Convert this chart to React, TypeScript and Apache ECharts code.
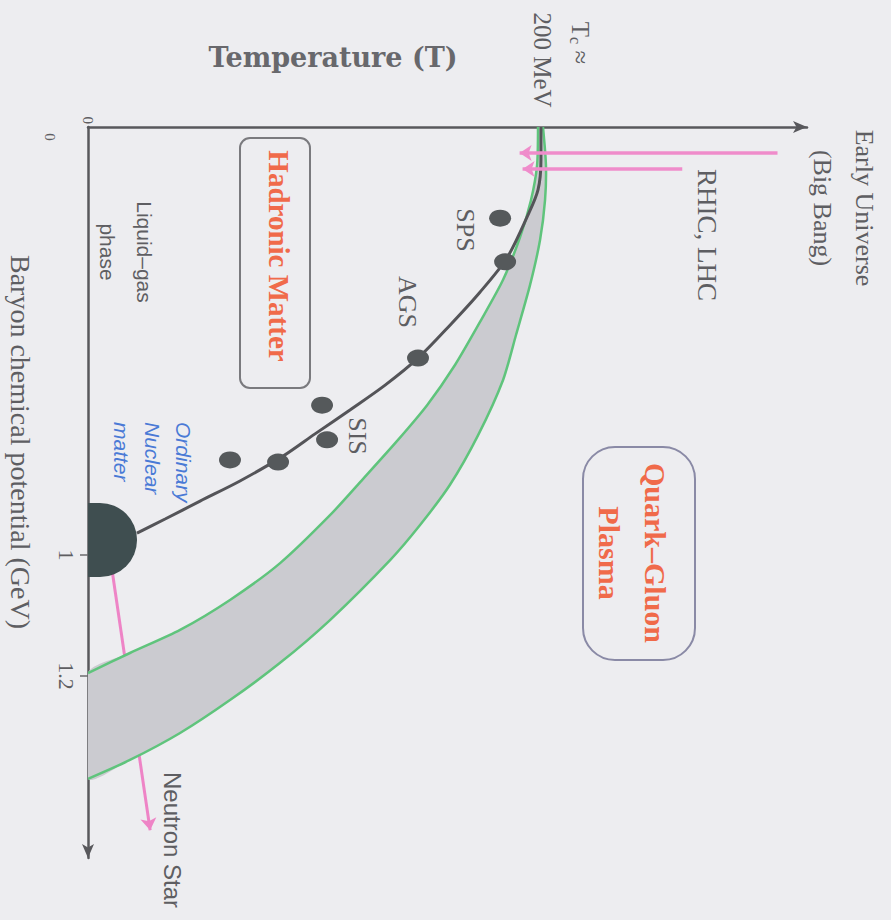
import React, { useEffect, useRef } from "react";
import * as echarts from "echarts";

// Horizontal axis: temperature T (MeV). Vertical axis (downwards): baryon chemical potential muB (GeV).
const tAxisMax = 317;
const muAxisMax = 1.708;

// Phase-transition line (dark grey)
const transitionT = [199.7, 199.7, 198.4, 193.6, 184.7, 172.8, 159.6, 145.5, 131.0, 115.5, 100.1, 86.0, 67.0, 49.4, 34.0, 21.6];
const transitionMu = [0, 0.077, 0.147, 0.21, 0.306, 0.386, 0.463, 0.54, 0.603, 0.661, 0.717, 0.769, 0.827, 0.874, 0.916, 0.949];

// Shaded band (green borders)
const bandInnerT = [198.4, 198.0, 195.3, 190.5, 183.0, 173.3, 161.8, 149.5, 136.2, 121.3, 106.7, 84.7, 62.6, 40.6, 18.5, 0];
const bandInnerMu = [0, 0.089, 0.171, 0.257, 0.357, 0.451, 0.556, 0.65, 0.734, 0.822, 0.907, 1.019, 1.105, 1.175, 1.229, 1.276];
const bandOuterT = [200.6, 201.9, 201.5, 199.3, 194.9, 188.7, 183.0, 172.0, 159.6, 146.4, 133.2, 106.7, 84.7, 62.6, 40.6, 18.5, 0];
const bandOuterMu = [0, 0.089, 0.171, 0.264, 0.369, 0.486, 0.591, 0.72, 0.836, 0.93, 1.012, 1.152, 1.252, 1.339, 1.416, 1.479, 1.523];

// Freeze-out points (SPS, AGS, SIS ...)
const experimentT = [181.7, 183.9, 145.5, 103.2, 105.4, 83.8, 62.6];
const experimentMu = [0.213, 0.315, 0.54, 0.65, 0.731, 0.783, 0.778];

// Ordinary nuclear matter
const nuclearT = [5.3];
const nuclearMu = [0.965];

// RHIC / LHC arrows
const rhicFromT = [304, 262];
const rhicToT = [190.3, 191.6];
const rhicMu = [0.061, 0.098];

// Neutron-star arrow
const neutronFrom = [10.6, 1.035];
const neutronTo = [27.4, 1.643];

// Tick labels
const muTickValues = [0, 1, 1.283];
const muTickLabels = ["0", "1", "1.2"];
const tTickValues = [0];
const tTickLabels = ["0"];

const GREY = "#5e5e62";
const SERIF = "'Liberation Serif', 'Times New Roman', serif";
const SANS = "'Liberation Sans', Arial, sans-serif";
const RED = "#f06a4a";
const ROT = -Math.PI / 2;

// half-disc (flat on the left, against the vertical axis)
const BLOB_PATH = "path://M0,0 L12,0 A37,37 0 1 1 12,74 L0,74 Z";

function pick(values: number[], labels: string[], v: number) {
  let best = -1;
  let d = Infinity;
  values.forEach((x, i) => {
    if (Math.abs(x - v) < d) {
      d = Math.abs(x - v);
      best = i;
    }
  });
  return d < 1e-6 ? labels[best] : "";
}

function rotText(x: number, y: number, text: string, styleExtra: any = {}) {
  return {
    type: "text",
    x,
    y,
    rotation: ROT,
    z: 100,
    style: {
      text,
      fill: GREY,
      fontFamily: SERIF,
      fontSize: 26,
      align: "center",
      verticalAlign: "middle",
      ...styleExtra,
    },
  };
}

export default function App() {
  const ref = useRef<HTMLDivElement>(null);

  useEffect(() => {
    const chart = echarts.init(ref.current!, null, { renderer: "svg" });

    const option: any = {
      animation: false,
      backgroundColor: "#ededf0",
      grid: { left: 88, top: 127, right: 84, bottom: 62, containLabel: false },
      xAxis: {
        type: "value",
        position: "top",
        min: 0,
        max: tAxisMax,
        splitLine: { show: false },
        axisTick: { show: false },
        axisLine: {
          show: true,
          onZero: false,
          symbol: ["none", "arrow"],
          symbolSize: [9, 14],
          lineStyle: { color: "#58585c", width: 2.5 },
        },
        axisLabel: {
          customValues: tTickValues,
          formatter: (v: number) => pick(tTickValues, tTickLabels, v),
          rotate: -90,
          margin: 3,
          fontSize: 15,
          fontFamily: SERIF,
          color: GREY,
        },
      },
      yAxis: {
        type: "value",
        inverse: true,
        min: 0,
        max: muAxisMax,
        splitLine: { show: false },
        axisLine: {
          show: true,
          onZero: false,
          symbol: ["arrow", "none"],
          symbolSize: [9, 14],
          lineStyle: { color: "#58585c", width: 2.5 },
        },
        axisTick: {
          show: true,
          customValues: [1, 1.283],
          length: 8,
          lineStyle: { color: "#6a6a6e", width: 1.5 },
        },
        axisLabel: {
          customValues: muTickValues,
          formatter: (v: number) => {
            const s = pick(muTickValues, muTickLabels, v);
            return v === 0 ? `{s|${s}}` : `{b|${s}}`;
          },
          rotate: -90,
          margin: 11,
          color: GREY,
          rich: {
            s: { fontSize: 15, fontFamily: SERIF, color: GREY, padding: [20, 0, 0, 20] },
            b: { fontSize: 22, fontFamily: SERIF, color: GREY },
          },
        },
      },
      series: [
        {
          type: "lines",
          coordinateSystem: "cartesian2d",
          z: 1,
          symbol: ["none", "arrow"],
          symbolSize: 12,
          lineStyle: { color: "#ee84c6", width: 3, opacity: 1 },
          data: [{ coords: [neutronFrom, neutronTo] }],
        },
        {
          type: "custom",
          coordinateSystem: "cartesian2d",
          clip: true,
          z: 2,
          data: [0],
          renderItem: (_p: any, api: any) => {
            const inner = bandInnerT.map((t, i) => api.coord([t, bandInnerMu[i]]));
            const outer = bandOuterT.map((t, i) => api.coord([t, bandOuterMu[i]]));
            return {
              type: "group",
              children: [
                {
                  type: "polygon",
                  shape: { points: inner.concat(outer.slice().reverse()), smooth: 0.25 },
                  style: { fill: "#cbcbd0" },
                },
                {
                  type: "polyline",
                  shape: { points: inner, smooth: 0.25 },
                  style: { stroke: "#5fc47c", lineWidth: 2.5, fill: "none" },
                },
                {
                  type: "polyline",
                  shape: { points: outer, smooth: 0.25 },
                  style: { stroke: "#5fc47c", lineWidth: 2.5, fill: "none" },
                },
              ],
            };
          },
        },
        {
          type: "line",
          z: 4,
          smooth: 0.3,
          symbol: "none",
          lineStyle: { color: "#545458", width: 3 },
          data: transitionT.map((t, i) => [t, transitionMu[i]]),
        },
        {
          type: "scatter",
          z: 5,
          symbol: "circle",
          symbolSize: [22, 17],
          itemStyle: { color: "#55595b", opacity: 1 },
          data: experimentT.map((t, i) => [t, experimentMu[i]]),
        },
        {
          type: "scatter",
          z: 5,
          clip: false,
          symbol: BLOB_PATH,
          symbolKeepAspect: false,
          symbolSize: [49, 74],
          symbolOffset: [12.5, 0],
          itemStyle: { color: "#3f4e50", opacity: 1 },
          data: nuclearT.map((t, i) => [t, nuclearMu[i]]),
        },
        {
          type: "lines",
          coordinateSystem: "cartesian2d",
          z: 6,
          symbol: ["none", "arrow"],
          symbolSize: 12,
          lineStyle: { color: "#ef8ccb", width: 3.5, opacity: 1 },
          data: rhicFromT.map((t, i) => ({ coords: [[t, rhicMu[i]], [rhicToT[i], rhicMu[i]]] })),
        },
      ],
      graphic: [
        {
          type: "text",
          x: 333,
          y: 57,
          z: 100,
          style: {
            text: "Temperature (T)",
            fill: "#68686c",
            fontFamily: "'DejaVu Serif', serif",
            fontWeight: "bold",
            fontSize: 27,
            align: "center",
            verticalAlign: "middle",
          },
        },
        rotText(580, 43, "T{c|c} ≈", { fontSize: 25, rich: { c: { fontSize: 16, fontFamily: SERIF, fill: GREY, padding: [10, 0, 0, 0] } } }),
        rotText(542, 60, "200 MeV", { fontSize: 25 }),
        rotText(843, 208, "Early Universe\n(Big Bang)", { fontSize: 26, lineHeight: 42 }),
        rotText(707, 235, "RHIC, LHC", { fontSize: 27 }),
        rotText(20, 442, "Baryon chemical potential (GeV)", { fontSize: 28 }),
        rotText(172, 840, "Neutron Star", { fontFamily: SANS, fontSize: 24 }),
        rotText(126, 252, "Liquid–gas\nphase", { fontFamily: SANS, fontSize: 21, lineHeight: 37 }),
        rotText(152, 422, "Ordinary\nNuclear\nmatter", {
          fontFamily: SANS,
          fontStyle: "italic",
          fontSize: 21,
          lineHeight: 31,
          align: "left",
          fill: "#4a7ad6",
        }),
        rotText(465, 230, "SPS", { fontSize: 26 }),
        rotText(407, 302, "AGS", { fontSize: 26 }),
        rotText(357, 436, "SIS", { fontSize: 26 }),
        {
          type: "rect",
          z: 99,
          shape: { x: 240, y: 138, width: 70, height: 250, r: 10 },
          style: { fill: "none", stroke: "#7a7a7e", lineWidth: 2 },
        },
        rotText(279, 256, "Hadronic Matter", { fontSize: 29, fontWeight: "bold", fill: RED }),
        {
          type: "rect",
          z: 99,
          shape: { x: 583, y: 447, width: 112, height: 213, r: 32 },
          style: { fill: "none", stroke: "#8a8aa6", lineWidth: 2 },
        },
        rotText(632, 553, "Quark–Gluon\nPlasma", { fontSize: 30, fontWeight: "bold", fill: RED, lineHeight: 46 }),
      ],
    };

    chart.setOption(option);
    return () => chart.dispose();
  }, []);

  return (
    <div
      ref={ref}
      style={{ position: "fixed", left: 0, top: 0, width: 891, height: 920, background: "#ededf0" }}
    />
  );
}
